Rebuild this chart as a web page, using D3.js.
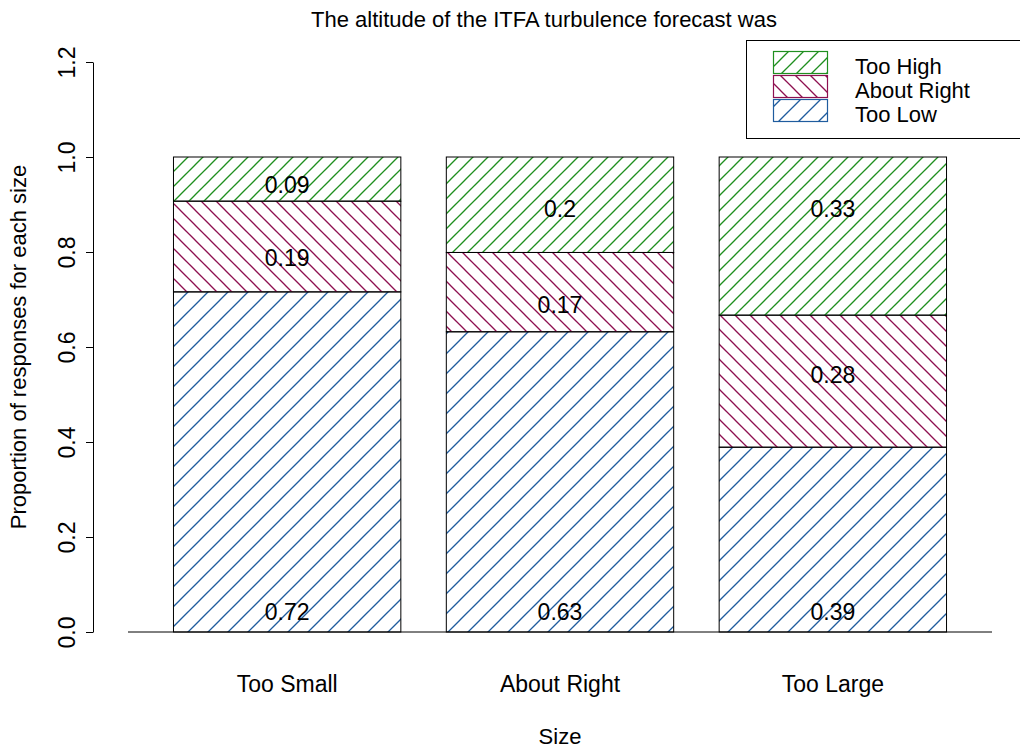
<!DOCTYPE html>
<html>
<head>
<meta charset="utf-8">
<script src="https://cdn.jsdelivr.net/npm/d3@7"></script>
<style>
  body { margin: 0; background: #fff; }
  text { font-family: "Liberation Sans", Arial, sans-serif; fill: #000; }
</style>
</head>
<body>
<div class="chart"></div>
<script>
// data (proportions, labels shown rounded)
var categories = ["Too Small", "About Right", "Too Large"];
var series = ["Too Low", "About Right", "Too High"];
var tooLow = [0.716, 0.632, 0.389];
var aboutRight = [0.191, 0.167, 0.278];
var tooHigh = [0.093, 0.201, 0.333];
// where the value labels sit, in proportion units (as in the original plot)
var labelLow = [0.042, 0.042, 0.042];
var labelMid = [0.789, 0.69, 0.541];
var labelHigh = [0.941, 0.891, 0.891];
var yTicks = [0, 0.2, 0.4, 0.6, 0.8, 1.0, 1.2];

var colors = { "Too Low": "#1f5c9e", "About Right": "#8e1050", "Too High": "#1f8f1f" };
var hatch = {
    "Too Low": { dir: "up", step: 20 },
    "About Right": { dir: "down", step: 15 },
    "Too High": { dir: "up", step: 15 }
};

var W = 1020, H = 749;
var svg = d3.select(".chart").append("svg")
    .attr("width", W)
    .attr("height", H);

// hatch patterns
var defs = svg.append("defs");
series.forEach(function(s, i){
    var h = hatch[s];
    var p = defs.append("pattern")
        .attr("id", "hatch" + i)
        .attr("patternUnits", "userSpaceOnUse")
        .attr("width", h.step)
        .attr("height", h.step);
    var n = h.step;
    var segs = h.dir === "up"
        ? [[0, n, n, 0], [-2, 2, 2, -2], [n - 2, n + 2, n + 2, n - 2]]
        : [[0, 0, n, n], [-2, n - 2, 2, n + 2], [n - 2, -2, n + 2, 2]];
    segs.forEach(function(sg){
        p.append("line")
            .attr("x1", sg[0]).attr("y1", sg[1])
            .attr("x2", sg[2]).attr("y2", sg[3])
            .attr("stroke", colors[s])
            .attr("stroke-width", 1.3);
    });
});

var x = d3.scaleBand()
    .domain(categories)
    .range([128, 992])
    .paddingInner(1/6)
    .paddingOuter(1/6);

var y = d3.scaleLinear()
    .domain([0, 1.2])
    .range([632, 62]);

// stack
var rows = categories.map(function(c, i){
    return { cat: c, "Too Low": tooLow[i], "About Right": aboutRight[i], "Too High": tooHigh[i] };
});
var stacked = d3.stack().keys(series)(rows);

stacked.forEach(function(layer, si){
    var g = svg.append("g");
    g.selectAll("rect.fill")
        .data(layer)
        .enter().append("rect")
        .attr("x", function(d){ return x(d.data.cat); })
        .attr("y", function(d){ return y(d[1]); })
        .attr("width", x.bandwidth())
        .attr("height", function(d){ return y(d[0]) - y(d[1]); })
        .attr("fill", "url(#hatch" + si + ")")
        .attr("stroke", "#000")
        .attr("stroke-width", 1);
});

// value labels
var labelRows = [
    { vals: tooLow, pos: labelLow },
    { vals: aboutRight, pos: labelMid },
    { vals: tooHigh, pos: labelHigh }
];
labelRows.forEach(function(r){
    svg.append("g").selectAll("text")
        .data(categories)
        .enter().append("text")
        .attr("x", function(d){ return x(d) + x.bandwidth()/2; })
        .attr("y", function(d, i){ return y(r.pos[i]); })
        .attr("dy", "0.36em")
        .attr("text-anchor", "middle")
        .style("font-size", "23px")
        .text(function(d, i){ return String(+r.vals[i].toFixed(2)); });
});

// baseline
svg.append("line")
    .attr("x1", x.range()[0]).attr("x2", x.range()[1])
    .attr("y1", y(0)).attr("y2", y(0))
    .attr("stroke", "#000");

// y axis
var yAxis = svg.append("g")
    .attr("transform", "translate(93,0)")
    .call(d3.axisLeft(y).tickValues(yTicks).tickSize(7).tickSizeOuter(0)
        .tickFormat(d3.format(".1f")));
yAxis.select(".domain").attr("stroke", "#000");
yAxis.selectAll(".tick line").attr("stroke", "#000");
yAxis.selectAll(".tick text")
    .attr("x", 0).attr("y", 0).attr("dy", null)
    .attr("transform", "translate(-18,0) rotate(-90)")
    .attr("text-anchor", "middle")
    .style("font-size", "23px")
    .style("font-family", "Liberation Sans, Arial, sans-serif")
    .attr("fill", "#000");

// category labels
svg.append("g").selectAll("text")
    .data(categories)
    .enter().append("text")
    .attr("x", function(d){ return x(d) + x.bandwidth()/2; })
    .attr("y", 692)
    .attr("text-anchor", "middle")
    .style("font-size", "23px")
    .text(function(d){ return d; });

// axis titles
svg.append("text")
    .attr("x", 560).attr("y", 744)
    .attr("text-anchor", "middle")
    .style("font-size", "22px")
    .text("Size");

svg.append("text")
    .attr("transform", "translate(26,347) rotate(-90)")
    .attr("text-anchor", "middle")
    .style("font-size", "22px")
    .text("Proportion of responses for each size");

svg.append("text")
    .attr("x", 544).attr("y", 27)
    .attr("text-anchor", "middle")
    .style("font-size", "22px")
    .text("The altitude of the ITFA turbulence forecast was");

// legend
var legend = svg.append("g");
legend.append("rect")
    .attr("x", 746.5).attr("y", 40.5)
    .attr("width", 300).attr("height", 98)
    .attr("fill", "#fff")
    .attr("stroke", "#000");
var legendOrder = ["Too High", "About Right", "Too Low"];
legendOrder.forEach(function(s, i){
    var si = series.indexOf(s);
    legend.append("rect")
        .attr("x", 773.5).attr("y", 51.5 + i*24)
        .attr("width", 54).attr("height", 22)
        .attr("fill", "url(#hatch" + si + ")")
        .attr("stroke", colors[s])
        .attr("stroke-width", 1.2);
    legend.append("text")
        .attr("x", 855).attr("y", 74 + i*24)
        .style("font-size", "22px")
        .text(s);
});
</script>
</body>
</html>
